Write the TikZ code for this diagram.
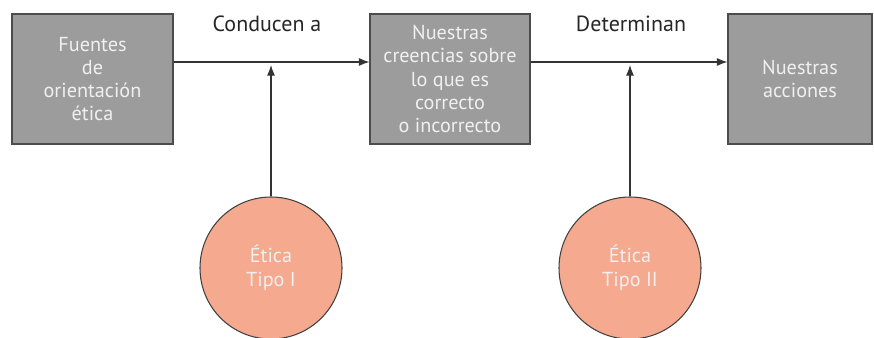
\documentclass[tikz,border=0pt]{standalone}
\usepackage{fontspec}
\setmainfont{PT Sans}
\usetikzlibrary{arrows.meta,positioning}

\definecolor{boxgray}{HTML}{9C9C9C}
\definecolor{salmon}{HTML}{F5A98E}
\definecolor{txtlight}{HTML}{F0F0F0}

\begin{document}
\begin{tikzpicture}[
  box/.style={draw=black!70,fill=boxgray,line width=0.6pt,minimum height=2.6cm,
    text=txtlight,align=center,font=\fontsize{11.5}{13.2}\selectfont,inner sep=0pt},
  tipo/.style={circle,draw=black!75,fill=salmon,line width=0.6pt,minimum size=2.84cm,
    text=txtlight,align=center,font=\fontsize{11.5}{13.6}\selectfont},
  lbl/.style={font=\fontsize{12.5}{15}\selectfont,text=black!85},
  flow/.style={draw=black!80,line width=0.6pt,-{Latex[length=6pt,width=4.5pt]}}
]
  \useasboundingbox (0,0) rectangle (17.48,-6.76);
  \node[box,minimum width=3.22cm] (S) at (1.85,-1.58) {Fuentes\\de\\orientación\\ética};
  \node[box,minimum width=3.2cm] (B) at (9.0,-1.58) {Nuestras\\creencias sobre\\lo que es\\correcto\\o incorrecto};
  \node[box,minimum width=2.88cm] (A) at (16.0,-1.58) {Nuestras\\acciones};
  \node[tipo] (T1) at (5.42,-5.36) {Ética\\Tipo I};
  \node[tipo] (T2) at (12.6,-5.36) {Ética\\Tipo II};
  \node[lbl] (L1) at (5.34,-0.47) {Conducen a};
  \node[lbl] (L2) at (12.62,-0.47) {Determinan};
  \coordinate (P1) at (5.42,-1.3);
  \coordinate (P2) at (12.6,-1.3);
  \draw[flow] (S.east |- 0,-1.24) -- (B.west |- 0,-1.24);
  \draw[flow] (B.east |- 0,-1.24) -- (A.west |- 0,-1.24);
  \draw[flow] (T1.north) -- (P1);
  \draw[flow] (T2.north) -- (P2);
\end{tikzpicture}
\end{document}
